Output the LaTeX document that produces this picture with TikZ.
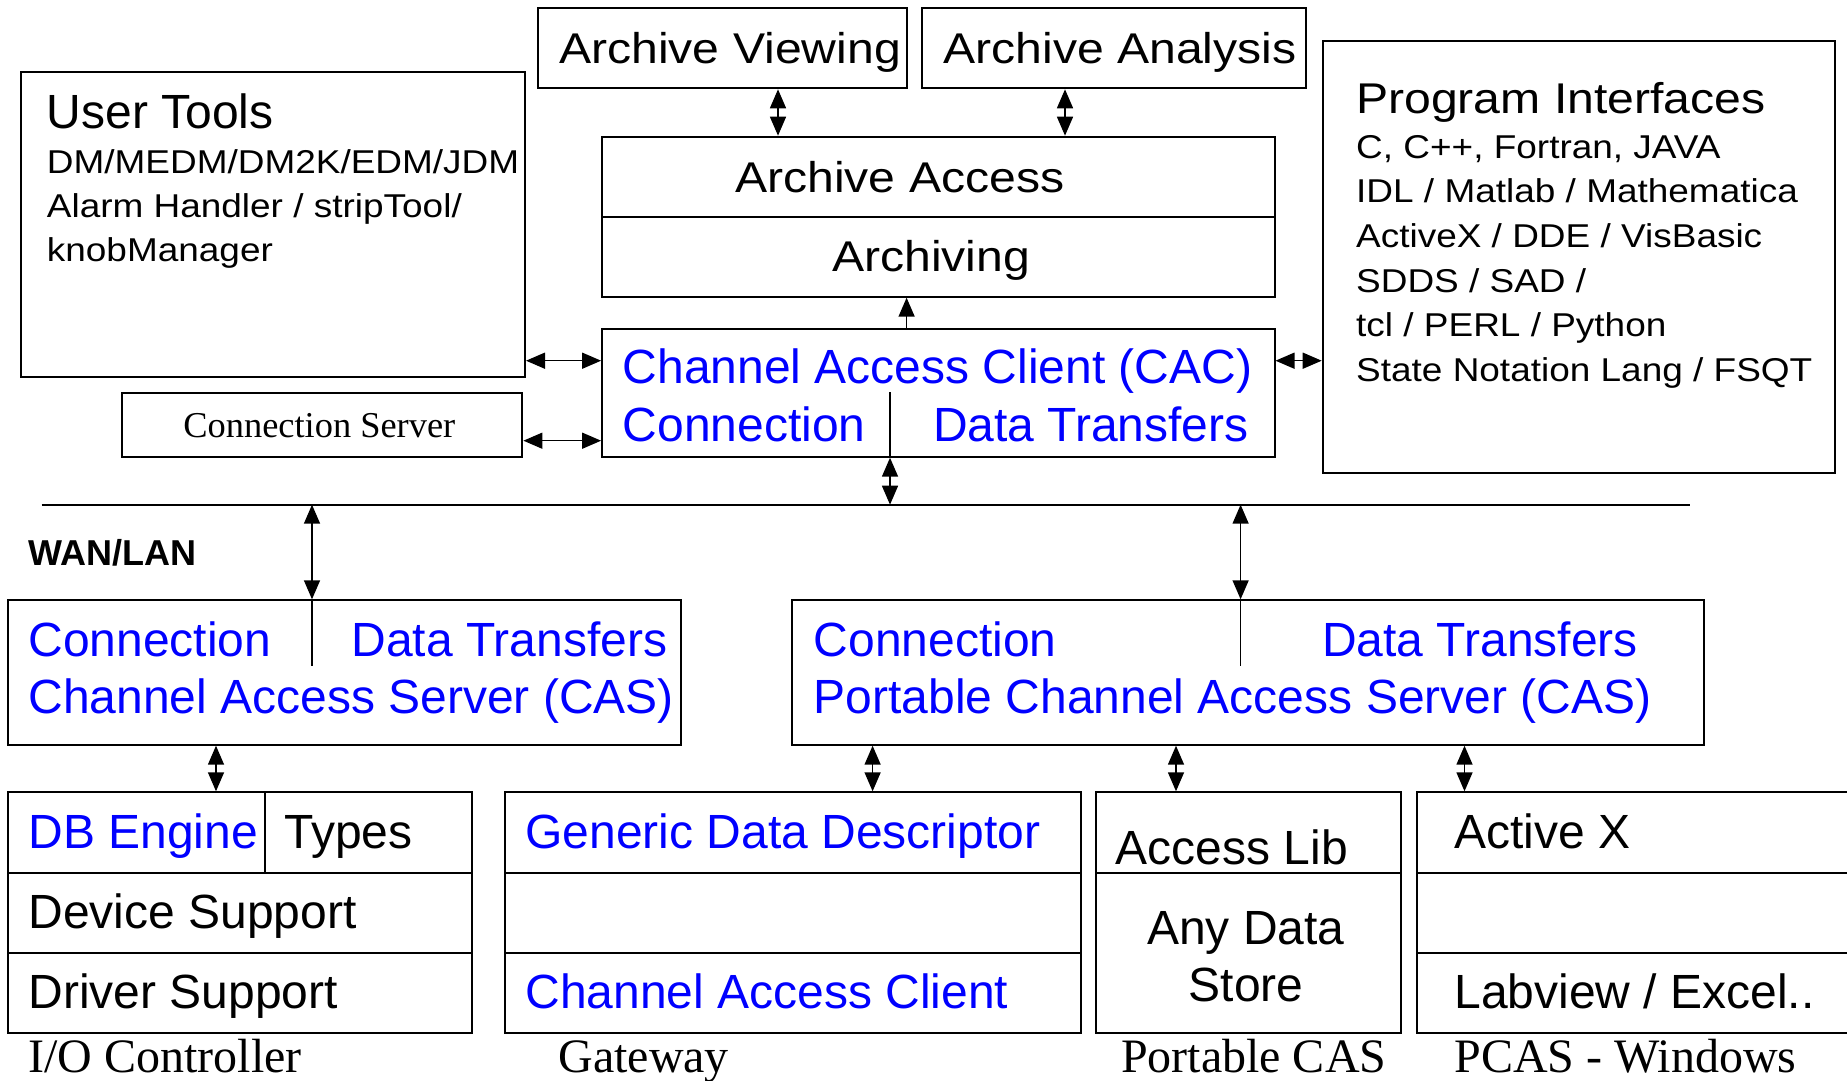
\documentclass[tikz,border=0pt]{standalone}
\usepackage{fontspec}
\setmainfont{Liberation Sans}
\newfontfamily\wsans[FakeStretch=1.12]{Liberation Sans}
\newfontfamily\tms{Liberation Serif}
\usetikzlibrary{arrows.meta}
\tikzset{
    cell/.style = {rectangle, draw=black, line width=1pt, inner sep=0pt},
    lbl/.style = {anchor=base west, inner sep=0pt, font=\fontsize{24}{28}\selectfont},
    lblb/.style = {lbl, text=blue},
    lblw/.style = {anchor=base west, inner sep=0pt, font=\wsans\fontsize{21.5}{26}\selectfont},
    lst/.style = {anchor=base west, inner sep=0pt, font=\wsans\fontsize{16.5}{20}\selectfont},
    capt/.style = {anchor=base west, inner sep=0pt, font=\tms\fontsize{24}{28}\selectfont},
    edged/.style = {{Triangle[length=9.5pt,width=8pt]}-{Triangle[length=9.5pt,width=8pt]}, line width=0.75pt},
    edgeu/.style = {-{Triangle[length=9.5pt,width=8pt]}, line width=0.75pt},
    divl/.style = {line width=0.75pt}
}

\begin{document}
\begin{tikzpicture}[x=0.5pt, y=-0.5pt]
\useasboundingbox (0,0) rectangle (1847,1081);
% top row
\node[cell, minimum width=184.3pt, minimum height=40pt] at (722.3, 48.3) (arview) {};
\node[lblw] at (558.7, 63.5) (arviewt) {Archive Viewing};
\node[cell, minimum width=192.2pt, minimum height=40pt] at (1114.2, 48.3) (aranal) {};
\node[lblw] at (942.9, 63.5) (aranalt) {Archive Analysis};
\node[cell, minimum width=336.2pt, minimum height=40.3pt] at (938.3, 177) (araccess) {};
\node[lblw] at (734.7, 192.7) (araccesst) {Archive Access};
\node[cell, minimum width=336.2pt, minimum height=39.7pt] at (938.3, 257) (archiving) {};
\node[lblw] at (831.6, 271.7) (archivingt) {Archiving};
%
\node[cell, minimum width=252.1pt, minimum height=152.1pt] at (272.9, 224.4) (tools) {};
\node[lbl] at (46.5, 128.3) (toolst) {User Tools};
\node[lst] at (46.5, 173.3) (tools1) {DM/MEDM/DM2K/EDM/JDM};
\node[lst] at (46.5, 217.5) (tools2) {Alarm Handler / stripTool/};
\node[lst] at (46.5, 261.7) (tools3) {knobManager};
%
\node[cell, minimum width=256pt, minimum height=216.2pt] at (1578.7, 257.2) (progif) {};
\node[lblw] at (1355.8, 113.3) (progift) {Program Interfaces};
\node[lst] at (1355.8, 158.3) (progif1) {C, C++, Fortran, JAVA};
\node[lst] at (1355.8, 202.9) (progif2) {IDL / Matlab / Mathematica};
\node[lst] at (1355.8, 247.5) (progif3) {ActiveX / DDE / VisBasic};
\node[lst] at (1355.8, 292.1) (progif4) {SDDS / SAD /};
\node[lst] at (1355.8, 336.7) (progif5) {tcl / PERL / Python};
\node[lst] at (1355.8, 381.3) (progif6) {State Notation Lang / FSQT};
% client
\node[cell, minimum width=336.2pt, minimum height=64.1pt] at (938.3, 392.6) (cac) {};
\node[lblb] at (622.4, 383.3) (cact) {Channel Access Client (CAC)};
\node[lblb] at (622.4, 441.7) (cacconn) {Connection};
\node[lblb] at (932.6, 441.7) (cacdata) {Data Transfers};
\draw[divl] (890,392.3) -- (cac.south -| 890,0);
\node[cell, minimum width=200.2pt, minimum height=32pt] at (322.2, 424.7) (connsrv) {};
\node[anchor=base west, inner sep=0pt, font=\tms\fontsize{18.2}{22}\selectfont] at (183, 437.3) (connsrvt) {Connection Server};
%
\draw[edged] (arview.south -| 778,0) -- (araccess.north -| 778,0);
\draw[edged] (aranal.south -| 1065,0) -- (araccess.north -| 1065,0);
\draw[edgeu] (cac.north -| 906.6,0) -- (archiving.south -| 906.6,0);
\draw[edged] (tools.east |- 0,360.7) -- (cac.west |- 0,360.7);
\draw[edged] (connsrv.east |- 0,440.7) -- (cac.west |- 0,440.7);
\draw[edged] (cac.east |- 0,360.7) -- (progif.west |- 0,360.7);
% network
\coordinate (wanl) at (41.5, 504.7);
\coordinate (wanr) at (1690, 504.7);
\draw[line width=1pt] (wanl) -- (wanr);
\node[anchor=base west, inner sep=0pt, font=\bfseries\fontsize{18}{22}\selectfont] at (27.7, 565.7) (wan) {WAN/LAN};
% servers
\node[cell, minimum width=336.4pt, minimum height=72.2pt] at (344.4, 672.5) (cas) {};
\node[lblb] at (28, 656.7) (casconn) {Connection};
\node[lblb] at (351, 656.7) (casdata) {Data Transfers};
\node[lblb] at (28, 713.3) (cast) {Channel Access Server (CAS)};
\draw[divl] (cas.north -| 312,0) -- (312, 665.7);
\node[cell, minimum width=456.1pt, minimum height=72.2pt] at (1248.3, 672.5) (pcas) {};
\node[lblb] at (813.4, 656.7) (pcasconn) {Connection};
\node[lblb] at (1321.8, 656.7) (pcasdata) {Data Transfers};
\node[lblb] at (813.4, 713.3) (pcast) {Portable Channel Access Server (CAS)};
\draw[divl] (pcas.north -| 1240.6,0) -- (1240.6, 665.7);
%
\draw[edged] (cac.south -| 890,0) -- (wanl -| 890,0);
\draw[edged] (wanl -| 312,0) -- (cas.north -| 312,0);
\draw[edged] (wanl -| 1240.6,0) -- (pcas.north -| 1240.6,0);
% I/O controller
\node[cell, minimum width=128.4pt, minimum height=40.2pt] at (136.2, 832.5) (dbeng) {};
\node[lblb] at (28, 848.8) (dbengt) {DB Engine};
\node[cell, minimum width=103.8pt, minimum height=40.2pt] at (368.5, 832.5) (types) {};
\node[lbl] at (284, 848.8) (typest) {Types};
\node[cell, minimum width=232.3pt, minimum height=40pt] at (240, 912.7) (devsup) {};
\node[lbl] at (28, 928.5) (devsupt) {Device Support};
\node[cell, minimum width=232.3pt, minimum height=40pt] at (240, 992.7) (drvsup) {};
\node[lbl] at (28, 1008.5) (drvsupt) {Driver Support};
\node[capt] at (28, 1072) (ioct) {I/O Controller};
% gateway
\node[cell, minimum width=288pt, minimum height=40.2pt] at (792.6, 832.5) (gdd) {};
\node[lblb] at (525, 848.8) (gddt) {Generic Data Descriptor};
\node[cell, minimum width=288pt, minimum height=40pt] at (792.6, 912.7) (gwmid) {};
\node[cell, minimum width=288pt, minimum height=40pt] at (792.6, 992.7) (gwcac) {};
\node[lblb] at (525, 1008.5) (gwcact) {Channel Access Client};
\node[capt] at (558, 1072) (gwt) {Gateway};
% portable cas
\node[cell, minimum width=152.2pt, minimum height=40.2pt] at (1248.6, 832.5) (acclib) {};
\node[lbl] at (1115.5, 864) (acclibt) {Access Lib};
\node[cell, minimum width=152.2pt, minimum height=80pt] at (1248.6, 952.7) (anydata) {};
\node[lbl, anchor=base] at (1246, 944) (anydatat) {Any Data};
\node[lbl, anchor=base] at (1246, 1001.7) (storet) {Store};
\node[capt] at (1120.6, 1072) (pcast2) {Portable CAS};
% windows
\node[cell, minimum width=226.6pt, minimum height=40.2pt] at (1643.4, 832.5) (activex) {};
\node[lbl] at (1454, 848.5) (activext) {Active X};
\node[cell, minimum width=226.6pt, minimum height=40pt] at (1643.4, 912.7) (winmid) {};
\node[cell, minimum width=226.6pt, minimum height=40pt] at (1643.4, 992.7) (labview) {};
\node[lbl] at (1454, 1008.5) (labviewt) {Labview / Excel..};
\node[capt] at (1454, 1072) (wint) {PCAS - Windows};
%
\draw[edged] (cas.south -| 216,0) -- (dbeng.north -| 216,0);
\draw[edged] (pcas.south -| 872.6,0) -- (gdd.north -| 872.6,0);
\draw[edged] (pcas.south -| 1176,0) -- (acclib.north -| 1176,0);
\draw[edged] (pcas.south -| 1464.5,0) -- (activex.north -| 1464.5,0);
\end{tikzpicture}
\end{document}
